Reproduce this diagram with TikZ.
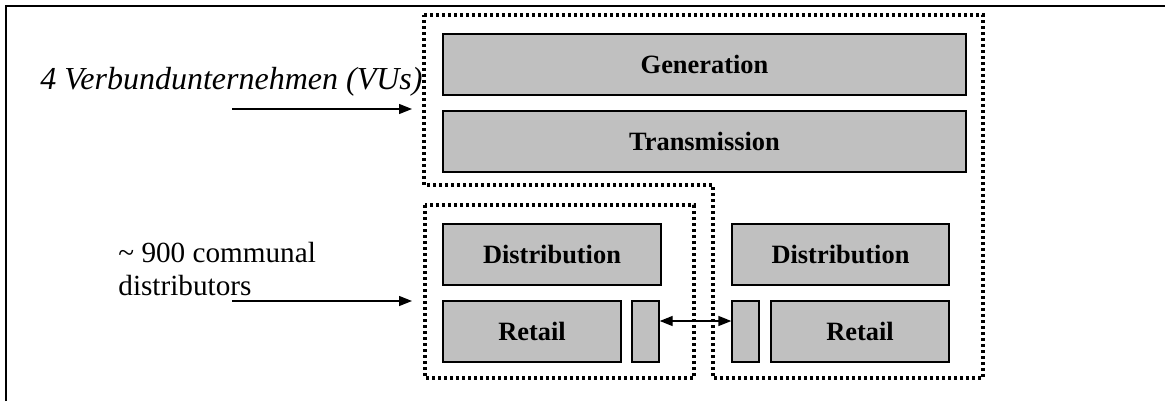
\documentclass[tikz,border=0pt]{standalone}
\usepackage{fontspec}
\setmainfont{Liberation Serif}
\usetikzlibrary{arrows.meta,positioning}
\definecolor{boxgray}{HTML}{C0C0C0}

\begin{document}
\begin{tikzpicture}[x=0.5pt, y=-0.5pt,
    box/.style={draw=black, fill=boxgray, line width=0.7pt, inner sep=0pt,
      minimum height=30.5pt, font=\fontsize{13.2}{15}\selectfont\bfseries},
    dotline/.style={line width=1.8pt, dash pattern=on 1.5pt off 1.5pt},
    pointer/.style={line width=0.7pt, -{Triangle[length=6.5pt, width=5pt]}}]

  \useasboundingbox (0,0) rectangle (1165,401);

  % ---- Frame (top and left edge) ----
  \draw[line width=1pt] (6,401) -- (6,6) -- (1165,6);

  % ---- Company boundaries ----
  \draw[dotline] (424,15) -- (983,15) -- (983,378) -- (713,378)
    -- (713,185) -- (424,185) -- cycle;
  \draw[dotline] (425,205) rectangle (694,378);

  % ---- Value chain stages ----
  \node[box, minimum width=261.5pt] (gen)   at (704.5,64.5)  {Generation};
  \node[box, minimum width=261.5pt] (trans) at (704.5,141.5) {Transmission};

  \node[box, minimum width=109pt]   (distL) at (552,254.5)   {Distribution};
  \node[box, minimum width=89pt]    (retL)  at (532,331.5)   {Retail};
  \node[box, minimum width=13.5pt]  (stubL) at (645.5,331.5) {};

  \node[box, minimum width=108.5pt] (distR) at (840.5,254.5) {Distribution};
  \node[box, minimum width=13.5pt]  (stubR) at (745.5,331.5) {};
  \node[box, minimum width=89pt]    (retR)  at (860,331.5)   {Retail};

  % retail exchange between the two groups
  \draw[line width=0.7pt, {Triangle[length=6.5pt, width=5pt]}-{Triangle[length=6.5pt, width=5pt]}]
    ([yshift=5.25pt]stubL.east) -- ([yshift=5.25pt]stubR.west);

  % ---- Labels on the left ----
  \node[anchor=base west, inner sep=0pt, font=\fontsize{16}{18}\selectfont\itshape]
    (vus) at (40,90) {4 Verbundunternehmen (VUs)};
  % base of a two-line node sits on its last line
  \node[anchor=base west, inner sep=0pt, align=left,
    font=\fontsize{14.6}{16.5}\selectfont]
    (comm) at (118,295) {\textasciitilde{} 900 communal\\distributors};

  \coordinate (vusfrom) at (232,109);
  \coordinate (vusto)   at (412,109);
  \coordinate (commfrom) at (232,301);
  \coordinate (commto)   at (412,301);
  \draw[pointer] (vusfrom) -- (vusto);
  \draw[pointer] (commfrom) -- (commto);

\end{tikzpicture}
\end{document}
